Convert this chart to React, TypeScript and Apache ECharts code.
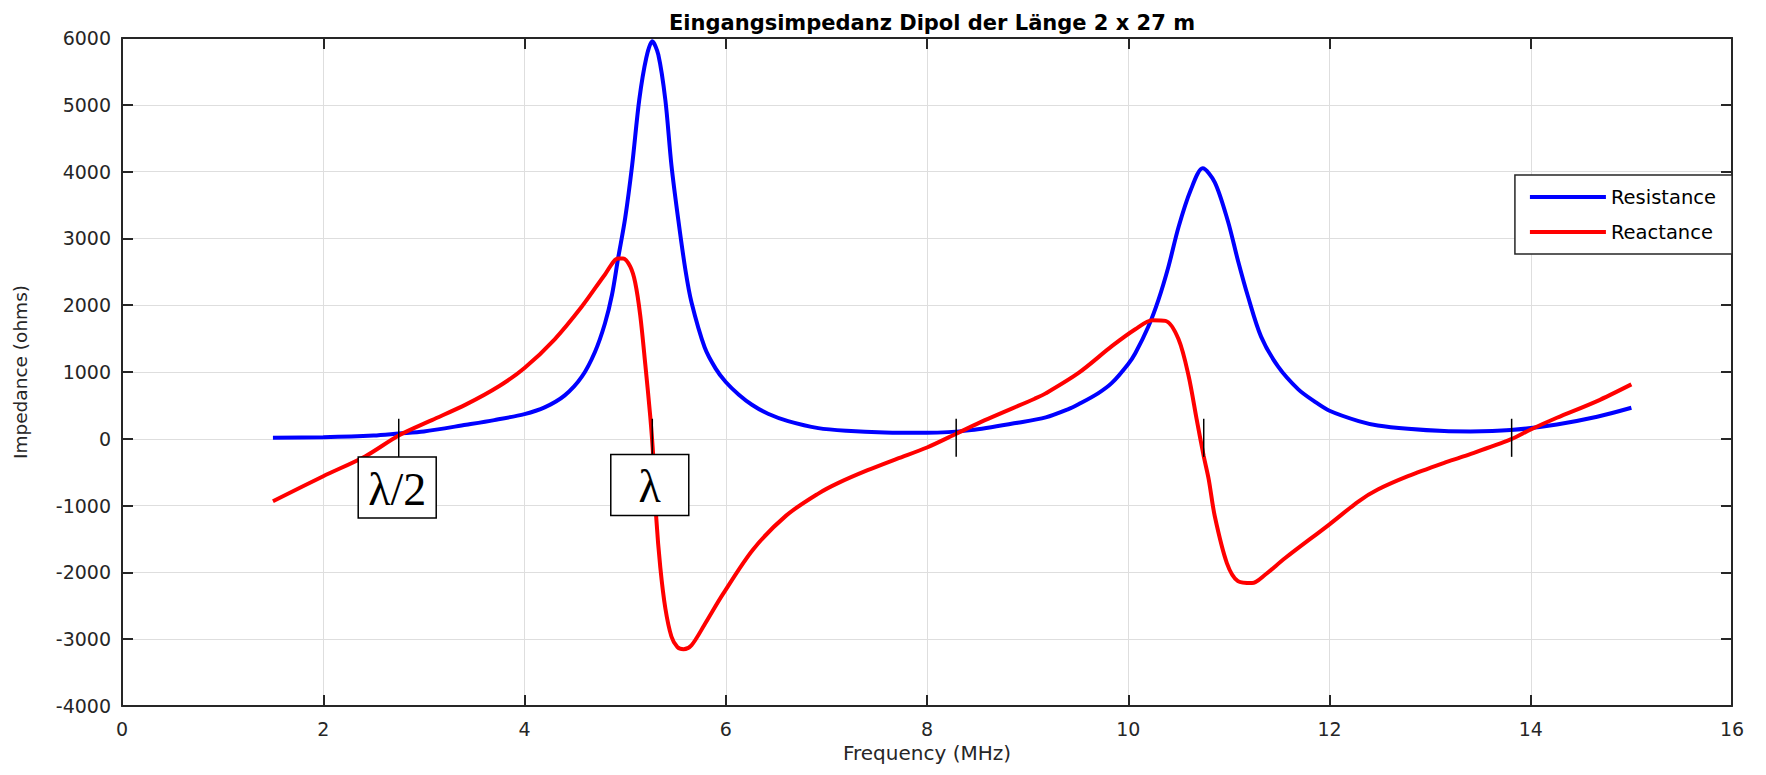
import React, { useEffect, useRef } from "react";
import * as echarts from "echarts";

const titleText = "Eingangsimpedanz Dipol der Länge 2 x 27 m";
const xAxisName = "Frequency (MHz)";
const yAxisName = "Impedance (ohms)";
const seriesNames = ["Resistance", "Reactance"];

const xMin = 0;
const xMax = 16;
const xStep = 2;
const yMin = -4000;
const yMax = 6000;
const yStep = 1000;

const resistanceFreq = [
  1.5, 2.0, 2.5, 2.75, 3.0, 3.42, 3.7, 4.0, 4.2, 4.4, 4.57, 4.7, 4.8, 4.87, 4.93, 5.0, 5.07, 5.14, 5.21, 5.27,
  5.33, 5.4, 5.46, 5.53, 5.6, 5.66, 5.79, 5.9, 6.0, 6.13, 6.26, 6.42, 6.62, 6.92, 7.2, 7.58, 8.0, 8.44, 8.9,
  9.18, 9.4, 9.51, 9.7, 9.84, 10.0, 10.07, 10.2, 10.3, 10.4, 10.5, 10.62, 10.74, 10.86, 10.99, 11.09, 11.19,
  11.32, 11.49, 11.69, 11.85, 12.0, 12.29, 12.48, 12.78, 13.14, 13.4, 13.8, 14.26, 14.66, 15.0,
];
const resistanceOhms = [
  15, 25, 50, 80, 110, 210, 280, 370, 470, 650, 930, 1300, 1730, 2160, 2700, 3300, 4100, 5070, 5700, 5950,
  5750, 5070, 4100, 3260, 2520, 2040, 1370, 1050, 850, 660, 510, 375, 265, 160, 120, 95, 90, 130, 240,
  320, 440, 520, 680, 840, 1120, 1280, 1680, 2080, 2580, 3170, 3720, 4050, 3840, 3260, 2670, 2130,
  1530, 1080, 740, 560, 420, 265, 200, 150, 115, 110, 130, 215, 330, 465,
];

const reactanceFreq = [
  1.5, 2.0, 2.42, 2.75, 3.08, 3.42, 3.75, 4.0, 4.3, 4.57, 4.8, 4.93, 4.98, 5.05, 5.1, 5.15, 5.2, 5.25, 5.28,
  5.31, 5.35, 5.4, 5.46, 5.52, 5.58, 5.66, 5.79, 5.97, 6.27, 6.6, 6.92, 7.12, 7.41, 7.7, 8.0, 8.29, 8.57,
  9.07, 9.18, 9.51, 9.84, 10.07, 10.24, 10.37, 10.5, 10.6, 10.68, 10.75, 10.8, 10.86, 10.98, 11.09, 11.23,
  11.36, 11.56, 12.0, 12.29, 12.48, 12.78, 13.14, 13.34, 13.8, 14.0, 14.26, 14.66, 15.0,
];
const reactanceOhms = [
  -935, -560, -260, 50, 280, 515, 790, 1060, 1490, 1980, 2460, 2700, 2700, 2580, 2340, 1850, 1120, 330, -280,
  -1200, -1930, -2540, -2960, -3120, -3150, -3090, -2780, -2330, -1660, -1150, -820, -660, -470, -300, -130, 75, 275,
  600, 680, 990, 1390, 1640, 1775, 1765, 1490, 940, 290, -260, -610, -1160, -1860, -2130, -2160,
  -2035, -1785, -1280, -935, -760, -560, -360, -260, -10, 140, 315, 565, 815,
];

const markerFreq = [2.75, 5.27, 8.29, 10.75, 13.81];
const markerTop = 300;
const markerBottom = -270;

const labelFreq = [2.735, 5.245];
const labelOhms = [-730, -690];
const labelText = ["λ/2", "λ"];

const AXIS_COLOR = "#262626";
const SANS = '"DejaVu Sans", "Liberation Sans", Arial, sans-serif';

export default function App() {
  const ref = useRef<HTMLDivElement>(null);

  useEffect(() => {
    if (!ref.current) return;
    const chart = echarts.init(ref.current, null, { renderer: "svg" });

    const fmt = (v: number) => String(v);

    const option: any = {
      animation: false,
      backgroundColor: "#ffffff",
      title: {
        text: titleText,
        left: 927,
        top: 7,
        textAlign: "center",
        textStyle: { fontFamily: SANS, fontSize: 21, fontWeight: "bold", color: "#000" },
      },
      legend: {
        data: seriesNames,
        orient: "vertical",
        right: 34,
        top: 175,
        icon: "rect",
        itemWidth: 76,
        itemHeight: 4,
        itemGap: 15,
        padding: [12, 16, 12, 15],
        backgroundColor: "#ffffff",
        borderColor: AXIS_COLOR,
        borderWidth: 1.5,
        borderRadius: 0,
        textStyle: { fontFamily: SANS, fontSize: 19.5, color: "#000", lineHeight: 20 },
      },
      grid: { left: 122, right: 34, top: 38, bottom: 69, containLabel: false },
      xAxis: [
        {
          type: "value",
          min: xMin,
          max: xMax,
          interval: xStep,
          name: xAxisName,
          nameLocation: "middle",
          nameGap: 36,
          nameTextStyle: { fontFamily: SANS, fontSize: 20, color: AXIS_COLOR },
          axisLine: { show: true, onZero: false, lineStyle: { color: AXIS_COLOR, width: 2 } },
          axisTick: { show: true, inside: true, length: 11, lineStyle: { color: AXIS_COLOR, width: 2 } },
          axisLabel: { fontFamily: SANS, fontSize: 19, color: AXIS_COLOR, margin: 13, formatter: fmt },
          splitLine: { show: true, lineStyle: { color: "#dedede", width: 1 } },
        },
        {
          type: "value",
          position: "top",
          min: xMin,
          max: xMax,
          interval: xStep,
          axisLine: { show: true, onZero: false, lineStyle: { color: AXIS_COLOR, width: 2 } },
          axisTick: { show: true, inside: true, length: 11, lineStyle: { color: AXIS_COLOR, width: 2 } },
          axisLabel: { show: false },
          splitLine: { show: false },
        },
      ],
      yAxis: [
        {
          type: "value",
          min: yMin,
          max: yMax,
          interval: yStep,
          name: yAxisName,
          nameLocation: "middle",
          nameGap: 92,
          nameTextStyle: { fontFamily: SANS, fontSize: 18.5, color: AXIS_COLOR },
          axisLine: { show: true, onZero: false, lineStyle: { color: AXIS_COLOR, width: 2 } },
          axisTick: { show: true, inside: true, length: 11, lineStyle: { color: AXIS_COLOR, width: 2 } },
          axisLabel: { fontFamily: SANS, fontSize: 19, color: AXIS_COLOR, margin: 11, formatter: fmt },
          splitLine: { show: true, lineStyle: { color: "#dedede", width: 1 } },
        },
        {
          type: "value",
          position: "right",
          min: yMin,
          max: yMax,
          interval: yStep,
          axisLine: { show: true, onZero: false, lineStyle: { color: AXIS_COLOR, width: 2 } },
          axisTick: { show: true, inside: true, length: 11, lineStyle: { color: AXIS_COLOR, width: 2 } },
          axisLabel: { show: false },
          splitLine: { show: false },
        },
      ],
      series: [
        {
          name: seriesNames[0],
          type: "line",
          xAxisIndex: 0,
          yAxisIndex: 0,
          showSymbol: false,
          symbol: "none",
          smooth: 0.3,
          data: resistanceFreq.map((f, i) => [f, resistanceOhms[i]]),
          lineStyle: { color: "#0000ff", width: 4 },
          itemStyle: { color: "#0000ff" },
          z: 3,
        },
        {
          name: seriesNames[1],
          type: "line",
          xAxisIndex: 0,
          yAxisIndex: 0,
          showSymbol: false,
          symbol: "none",
          smooth: 0.3,
          data: reactanceFreq.map((f, i) => [f, reactanceOhms[i]]),
          lineStyle: { color: "#ff0000", width: 4 },
          itemStyle: { color: "#ff0000" },
          z: 4,
        },
        {
          name: "markers",
          type: "custom",
          xAxisIndex: 0,
          yAxisIndex: 0,
          silent: true,
          z: 6,
          data: markerFreq.map((f) => [f, markerTop, markerBottom]),
          renderItem: (_params: any, api: any) => {
            const x = api.value(0);
            const p1 = api.coord([x, api.value(1)]);
            const p2 = api.coord([x, api.value(2)]);
            return {
              type: "line",
              shape: { x1: p1[0], y1: p1[1], x2: p2[0], y2: p2[1] },
              style: { stroke: "#000", lineWidth: 1.5 },
            };
          },
        },
        {
          name: "labels",
          type: "custom",
          xAxisIndex: 0,
          yAxisIndex: 0,
          silent: true,
          z: 7,
          data: labelFreq.map((f, i) => [f, labelOhms[i]]),
          renderItem: (params: any, api: any) => {
            const c = api.coord([api.value(0), api.value(1)]);
            const w = 78;
            const h = 61;
            return {
              type: "group",
              children: [
                {
                  type: "rect",
                  shape: { x: c[0] - w / 2, y: c[1] - h / 2, width: w, height: h },
                  style: { fill: "#ffffff", stroke: "#000", lineWidth: 1.5 },
                },
                {
                  type: "text",
                  style: {
                    text: labelText[params.dataIndex],
                    x: c[0],
                    y: c[1] + 2,
                    align: "center",
                    verticalAlign: "middle",
                    fontFamily: '"Liberation Serif", "Times New Roman", serif',
                    fontSize: 46,
                    fill: "#000",
                  },
                },
              ],
            };
          },
        },
      ],
    };

    chart.setOption(option);
    return () => chart.dispose();
  }, []);

  return (
    <div
      ref={ref}
      style={{ position: "absolute", left: 0, top: 0, width: 1766, height: 775, background: "#fff" }}
    />
  );
}
